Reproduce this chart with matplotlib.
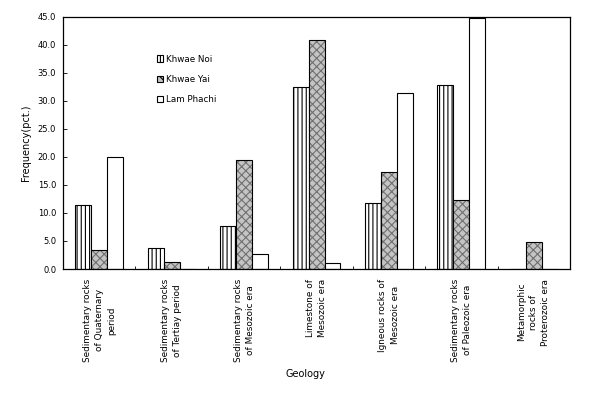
import numpy as np
import matplotlib.pyplot as plt

geology = [
    "Sedimentary rocks\nof Quaternary\nperiod",
    "Sedimentary rocks\nof Tertiay period",
    "Sedimentary rocks\nof Mesozoic era",
    "Limestone of\nMesozoic era",
    "Igneous rocks of\nMesozoic era",
    "Sedimentary rocks\nof Paleozoic era",
    "Metamorphic\nrocks of\nProterozoic era",
]
khwae_noi = [11.5, 3.8, 7.7, 32.4, 11.7, 32.8, 0.0]
khwae_yai = [3.4, 1.3, 19.5, 40.8, 17.4, 12.4, 4.9]
lam_phachi = [20.0, 0.0, 2.6, 1.0, 31.4, 44.8, 0.0]

plt.rcParams["hatch.linewidth"] = 0.8

fig = plt.figure(figsize=(5.95, 3.97), dpi=100)
ax = fig.add_axes([0.106, 0.3224, 0.852, 0.635])

x = np.arange(len(geology)) + 0.5
w = 0.22

b1 = ax.bar(x - w, khwae_noi, w, facecolor="white", edgecolor="black",
            hatch="||||", linewidth=0.8, label="Khwae Noi")
# stippled grey fill, then black outline on top
ax.bar(x, khwae_yai, w, facecolor="#c4c4c4", edgecolor="#707070",
       hatch="xxxx", linewidth=0)
b2 = ax.bar(x, khwae_yai, w, facecolor="none", edgecolor="black",
            linewidth=0.8)
b2_leg = plt.Rectangle((0, 0), 1, 1, facecolor="#c4c4c4", edgecolor="black",
                       hatch="xx", linewidth=0.8)
b3 = ax.bar(x + w, lam_phachi, w, facecolor="white", edgecolor="black",
            linewidth=0.8, label="Lam Phachi")

ax.set_xlim(0, 7)
ax.set_ylim(0, 45)
ax.set_yticks(np.arange(0, 46, 5))
ax.set_yticklabels([f"{v:.1f}" for v in np.arange(0, 46, 5)], fontsize=6)
ax.tick_params(axis="y", direction="in", length=3, width=0.6, pad=5)

ax.set_xticks(x)
ax.set_xticklabels(geology, rotation=90, va="top", ha="center",
                   multialignment="center", fontsize=6.4, linespacing=1.45)
ax.tick_params(axis="x", length=0, pad=7)
ax.set_xticks(np.arange(1, 7), minor=True)
ax.tick_params(axis="x", which="minor", direction="in", length=2.5, width=0.6)

for s in ax.spines.values():
    s.set_linewidth(0.9)

ax.set_ylabel("Frequency(pct.)", fontsize=7, labelpad=5)
fig.text(0.513, 0.058, "Geology", fontsize=7, ha="center", va="center")

ax.legend([b1, b2_leg, b3], ["Khwae Noi", "Khwae Yai", "Lam Phachi"],
          loc="upper left", bbox_to_anchor=(0.17, 0.882), frameon=False,
          fontsize=6.3, handlelength=0.7, handleheight=0.7,
          handletextpad=0.3, labelspacing=1.3)

fig.savefig("out.png", dpi=100)
